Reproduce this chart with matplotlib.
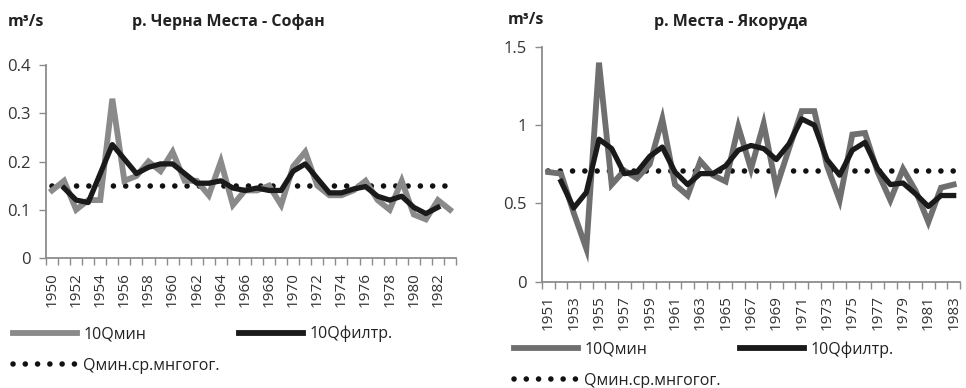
import matplotlib
matplotlib.use("Agg")
import matplotlib.pyplot as plt
from matplotlib.lines import Line2D
import numpy as np

plt.rcParams['font.family'] = ['Open Sans', 'DejaVu Sans']

# ---- Data: р. Черна Места - Софан ----
years_l = list(range(1950, 1984))
qmin_l = [0.14, 0.16, 0.10, 0.12, 0.12, 0.33, 0.16, 0.17, 0.20, 0.18,
          0.22, 0.16, 0.16, 0.13, 0.20, 0.11, 0.14, 0.14, 0.15, 0.11,
          0.19, 0.22, 0.15, 0.13, 0.13, 0.14, 0.16, 0.12, 0.10, 0.16,
          0.09, 0.08, 0.12, 0.10]
qfilt_l = [None, 0.145, 0.12, 0.115, 0.175, 0.235, 0.205, 0.175, 0.188, 0.195,
           0.195, 0.175, 0.155, 0.155, 0.16, 0.145, 0.14, 0.145, 0.14, 0.14,
           0.18, 0.195, 0.165, 0.135, 0.135, 0.143, 0.148, 0.128, 0.12, 0.128,
           0.105, 0.092, 0.105, None]
qmean_l = 0.15

# ---- Data: р. Места - Якоруда ----
years_r = list(range(1951, 1984))
qmin_r = [0.70, 0.69, 0.44, 0.21, 1.40, 0.62, 0.71, 0.66, 0.75, 1.04,
          0.62, 0.55, 0.77, 0.68, 0.64, 0.99, 0.72, 1.01, 0.60, 0.85,
          1.09, 1.09, 0.74, 0.52, 0.94, 0.95, 0.70, 0.52, 0.72, 0.58,
          0.38, 0.60, 0.62]
qfilt_r = [None, 0.64, 0.47, 0.57, 0.91, 0.85, 0.69, 0.70, 0.80, 0.86,
           0.70, 0.62, 0.69, 0.69, 0.74, 0.84, 0.87, 0.85, 0.78, 0.88,
           1.04, 1.00, 0.78, 0.68, 0.84, 0.89, 0.72, 0.62, 0.63, 0.56,
           0.48, 0.55, 0.55]
qmean_r = 0.71

labels = ['10Qмин', '10Qфилтр.', 'Qмин.ср.мнгогог.']

fig = plt.figure(figsize=(9.66, 3.88), dpi=100)
W, H = 966, 388

def px_axes(x0, x1, ytop, ybot):
    return fig.add_axes([x0 / W, 1 - ybot / H, (x1 - x0) / W, (ybot - ytop) / H])

spine_c = '#8c8c8c'
dot_style = (0, (0.01, 2.2))
LW_G, LW_B, LW_D = 4.2, 3.8, 4.0

def draw(ax, years, qmin, qfilt, qmean, ymax, yticks, ytl, gray):
    n = len(years)
    x = np.arange(n)
    qf = np.array([np.nan if v is None else v for v in qfilt], dtype=float)
    ax.plot(x, [qmean] * n, color='#111111', lw=LW_D, linestyle=dot_style,
            dash_capstyle='round', zorder=1)
    ax.plot(x, qmin, color=gray, lw=LW_G, solid_joinstyle='miter', zorder=2)
    ax.plot(x, qf, color='#1a1a1a', lw=LW_B, solid_joinstyle='round', zorder=3)
    ax.set_xlim(-0.5, n - 0.5)
    ax.set_ylim(0, ymax)
    ax.set_yticks(yticks)
    ax.set_yticklabels(ytl)
    major = list(range(0, n, 2))
    ax.set_xticks(major)
    ax.set_xticklabels([str(years[i]) for i in major], rotation=90)
    ax.set_xticks(np.arange(-0.5, n, 1.0), minor=True)
    ax.tick_params(axis='x', which='major', length=0, pad=10, labelsize=11,
                   labelcolor='#333333')
    ax.tick_params(axis='x', which='minor', length=5, width=1, color=spine_c,
                   direction='out')
    ax.tick_params(axis='y', length=5, width=1, color=spine_c, labelsize=12,
                   labelcolor='#333333', pad=6)
    for s in ['top', 'right']:
        ax.spines[s].set_visible(False)
    for s in ['left', 'bottom']:
        ax.spines[s].set_color(spine_c)
        ax.spines[s].set_linewidth(1.3)

axL = px_axes(46, 456, 65, 258)
draw(axL, years_l, qmin_l, qfilt_l, qmean_l, 0.4, [0, 0.1, 0.2, 0.3, 0.4],
     ['0', '0.1', '0.2', '0.3', '0.4'], '#8a8a8a')
axR = px_axes(542, 960, 47, 281.5)
draw(axR, years_r, qmin_r, qfilt_r, qmean_r, 1.5, [0, 0.5, 1, 1.5],
     ['0', '0.5', '1', '1.5'], '#6f6f6f')

# Titles and units
fig.text(8 / W, 1 - 22 / H, 'm³/s', fontsize=11.5, fontweight='bold', va='center', ha='left', color='#222222')
fig.text(228 / W, 1 - 22 / H, 'р. Черна Места - Софан', fontsize=11.5, fontweight='bold',
         va='center', ha='center', color='#222222')
fig.text(508 / W, 1 - 20 / H, 'm³/s', fontsize=11.5, fontweight='bold', va='center', ha='left', color='#222222')
fig.text(731 / W, 1 - 22 / H, 'р. Места - Якоруда', fontsize=11.5, fontweight='bold',
         va='center', ha='center', color='#222222')

def legend(x0, ytop, gray):
    h = [Line2D([], [], color=gray, lw=LW_G),
         Line2D([], [], color='#111111', lw=LW_D, linestyle=dot_style, dash_capstyle='round'),
         Line2D([], [], color='#1a1a1a', lw=LW_G)]
    lg = fig.legend(h, [labels[0], labels[2], labels[1]], ncol=2, frameon=False,
                    loc='upper left', bbox_to_anchor=(x0 / W, 1 - ytop / H),
                    fontsize=11.5, handlelength=4.0, handletextpad=0.4,
                    columnspacing=1.2, labelspacing=0.95, borderpad=0, borderaxespad=0)
    for t in lg.get_texts():
        t.set_color('#222222')

legend(13, 326, '#8a8a8a')
legend(514, 341, '#6f6f6f')

fig.savefig('out.png', dpi=100)
